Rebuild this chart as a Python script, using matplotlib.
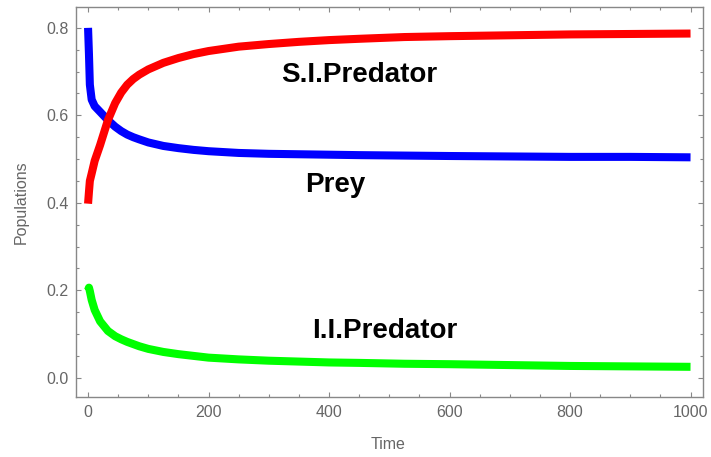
import numpy as np
import matplotlib.pyplot as plt
from matplotlib.ticker import MultipleLocator

# time samples and solution values read along each trajectory
time = [0, 1.5, 3, 6, 11, 20, 33, 45, 55, 65, 75, 85, 100, 125, 150, 175, 200,
        250, 300, 350, 400, 450, 525, 600, 700, 800, 900, 1000]
prey = [0.800, 0.740, 0.670, 0.636, 0.621, 0.608, 0.589, 0.574, 0.564, 0.556,
        0.550, 0.545, 0.538, 0.530, 0.525, 0.521, 0.518,
        0.514, 0.512, 0.511, 0.510, 0.509, 0.508, 0.507, 0.506, 0.505, 0.505, 0.504]
si_predator = [0.398, 0.425, 0.450, 0.467, 0.496, 0.532, 0.589, 0.628, 0.652, 0.670,
               0.683, 0.693, 0.705, 0.720, 0.731, 0.740, 0.747,
               0.757, 0.763, 0.768, 0.772, 0.775, 0.779, 0.781, 0.783, 0.785, 0.786, 0.787]
ii_predator = [0.200, 0.206, 0.198, 0.178, 0.155, 0.129, 0.107, 0.095, 0.088, 0.082,
               0.077, 0.072, 0.066, 0.059, 0.054, 0.050, 0.046,
               0.042, 0.039, 0.037, 0.035, 0.034, 0.032, 0.031, 0.029, 0.027, 0.026, 0.025]

# curve labels: (text, time, value)
curve_labels = [("S.I.Predator", 450, 0.677),
                ("Prey", 410, 0.425),
                ("I.I.Predator", 493, 0.090)]

gray = "#888888"
label_gray = "#666666"

plt.rcParams['font.family'] = ['Liberation Sans', 'DejaVu Sans']

fig = plt.figure(figsize=(7.11, 4.57), dpi=100)
ax = fig.add_axes([76 / 711, 60 / 457, 627 / 711, 389.7 / 457])

line_kw = dict(lw=5.8, solid_capstyle='butt', solid_joinstyle='round')
ax.plot(time, prey, color='#0000ff', **line_kw)
ax.plot(time, si_predator, color='#ff0000', **line_kw)
ax.plot(time, ii_predator, color='#00ff00', **line_kw)

for txt, tx, ty in curve_labels:
    ax.text(tx, ty, txt, ha='center', va='baseline', fontsize=20,
            fontweight='bold', color='black')

ax.set_xlim(-20, 1020.7)
ax.set_ylim(-0.044, 0.847)

ax.xaxis.set_major_locator(MultipleLocator(200))
ax.xaxis.set_minor_locator(MultipleLocator(50))
ax.yaxis.set_major_locator(MultipleLocator(0.2))
ax.yaxis.set_minor_locator(MultipleLocator(0.05))
ax.yaxis.set_major_formatter(plt.FuncFormatter(lambda v, p: f"{v:.1f}"))

ax.tick_params(which='both', direction='in', top=True, right=True,
               color=gray, width=0.8, labelcolor=label_gray, labelsize=11.5)
ax.tick_params(which='major', length=3.8, pad=5.5)
ax.tick_params(which='minor', length=2.2)

for s in ax.spines.values():
    s.set_color(gray)
    s.set_linewidth(1.0)

ax.set_xlabel("Time", color=label_gray, fontsize=11.5)
ax.xaxis.set_label_coords(0.498, -0.102)
ax.set_ylabel("Populations", color=label_gray, fontsize=11.5)
ax.yaxis.set_label_coords(-0.075, 0.5)

fig.savefig("out.png", dpi=100)
